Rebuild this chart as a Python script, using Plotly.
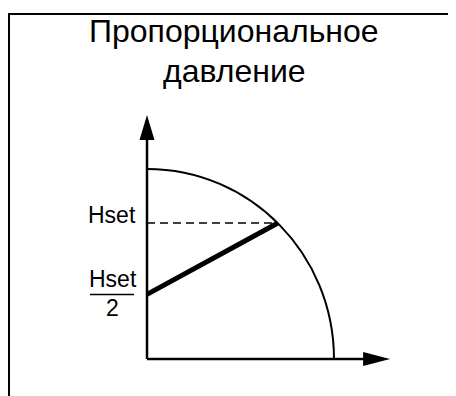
import plotly.graph_objects as go

# pump curve (normalised units): H at Q=0 and Q at H=0
q_max = 1.0
h_max = 1.0

# proportional pressure control line
control_q = [0.0, 0.70]
control_h = [0.34, 0.716]

# set point level
h_set = 0.716
setpoint_q = [0.0, 0.70]
setpoint_h = [h_set, h_set]

title_lines = ["Пропорциональное", "давление"]
label_set = "Hset"
label_half_top = "Hset"
label_half_bottom = "2"

# axis extents (tips of the arrows)
q_axis_end = 1.30
h_axis_end = 1.284

# page has an 8px body margin, so the figure is 8px smaller than the window
W, H = 448, 388
ox, oy = 139, 351          # pixel position of origin inside the figure
sx, sy = 187.0, 190.0      # pixels per unit

font = "Liberation Sans, Arial, sans-serif"
k = 0.5523

fig = go.Figure()

fig.add_trace(go.Scatter(x=setpoint_q, y=setpoint_h, mode="lines",
                         line=dict(color="black", width=1.5, dash="8px,5px"),
                         hoverinfo="skip"))
fig.add_trace(go.Scatter(x=control_q, y=control_h, mode="lines",
                         line=dict(color="black", width=5),
                         hoverinfo="skip"))

shapes = []
# pump curve as quarter ellipse (bezier)
shapes.append(dict(type="path", xref="x", yref="y",
                   path=f"M 0,{h_max} C {k*q_max},{h_max} {q_max},{k*h_max} {q_max},0",
                   line=dict(color="black", width=2)))
# axes
shapes.append(dict(type="line", xref="x", yref="y", x0=0, y0=0, x1=q_axis_end - 20/sx, y1=0,
                   line=dict(color="black", width=2.5)))
shapes.append(dict(type="line", xref="x", yref="y", x0=0, y0=0, x1=0, y1=h_axis_end - 20/sy,
                   line=dict(color="black", width=2.5)))
# arrow heads
shapes.append(dict(type="path", xref="x", yref="y", xsizemode="pixel", ysizemode="pixel",
                   xanchor=q_axis_end, yanchor=0,
                   path="M 0,0 L -27,7 L -27,-7 Z", fillcolor="black", line=dict(width=0)))
shapes.append(dict(type="path", xref="x", yref="y", xsizemode="pixel", ysizemode="pixel",
                   xanchor=0, yanchor=h_axis_end,
                   path="M 0,0 L -7.5,-25 L 7.5,-25 Z", fillcolor="black", line=dict(width=0)))
# fraction bar for Hset/2
shapes.append(dict(type="line", xref="x", yref="y", xsizemode="pixel",
                   xanchor=0, x0=-57, x1=-13, y0=control_h[0], y1=control_h[0],
                   line=dict(color="black", width=1.5)))
# frame: left and top edges only
shapes.append(dict(type="line", xref="paper", yref="paper",
                   x0=1/W, x1=1/W, y0=0, y1=1 - 5/H,
                   line=dict(color="black", width=2)))
shapes.append(dict(type="line", xref="paper", yref="paper",
                   x0=0, x1=1, y0=1 - 6/H, y1=1 - 6/H,
                   line=dict(color="black", width=2)))

annotations = [
    dict(text=title_lines[0], xref="paper", yref="paper", x=226/W, y=1 - 3/H,
         xanchor="center", yanchor="top", showarrow=False,
         font=dict(family=font, size=32, color="black")),
    dict(text=title_lines[1], xref="paper", yref="paper", x=226/W, y=1 - 43/H,
         xanchor="center", yanchor="top", showarrow=False,
         font=dict(family=font, size=32, color="black")),
    dict(text=label_set, x=0, y=h_set, xanchor="right", yanchor="middle",
         xshift=-9, yshift=8, showarrow=False, font=dict(family=font, size=23, color="black")),
    dict(text=label_half_top, x=0, y=control_h[0], xanchor="center", yanchor="bottom",
         xshift=-34, yshift=0, showarrow=False, font=dict(family=font, size=23, color="black")),
    dict(text=label_half_bottom, x=0, y=control_h[0], xanchor="center", yanchor="top",
         xshift=-35, yshift=1, showarrow=False, font=dict(family=font, size=23, color="black")),
]

fig.update_layout(
    width=W, height=H,
    margin=dict(l=0, r=0, t=0, b=0),
    paper_bgcolor="white", plot_bgcolor="white",
    showlegend=False,
    shapes=shapes,
    annotations=annotations,
    xaxis=dict(range=[-ox/sx, (W - ox)/sx], visible=False, fixedrange=True),
    yaxis=dict(range=[-(H - oy)/sy, oy/sy], visible=False, fixedrange=True),
)

fig.write_html("out.html")
